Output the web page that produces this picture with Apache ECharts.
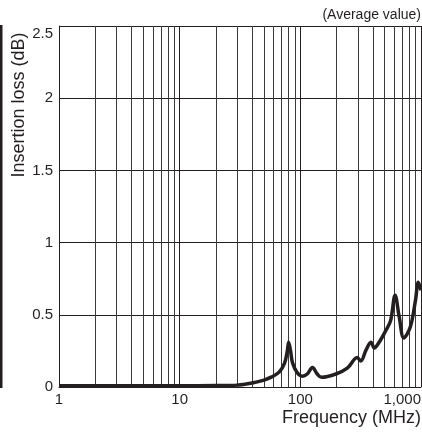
<!DOCTYPE html>
<html>
<head>
<meta charset="utf-8">
<script src="https://cdn.jsdelivr.net/npm/echarts@6/dist/echarts.min.js"></script>
<style>
  html, body { margin: 0; padding: 0; background: #fff; }
  #chart { width: 422px; height: 433px; }
</style>
</head>
<body>
<div id="chart"></div>
<script>
  // 频率 (MHz) 与插入损耗 (dB)
  var freq = [1, 2, 5, 10, 20, 30, 40, 50, 58, 67, 74, 78, 80, 83, 86, 94, 104, 114, 126, 138, 150,
              197, 245, 296, 317, 350, 385, 410, 450, 510, 560, 610, 660, 720, 815, 900, 950, 1000];
  var loss = [0.008, 0.008, 0.008, 0.008, 0.01, 0.013, 0.028, 0.048, 0.07, 0.105, 0.165, 0.25, 0.31, 0.25, 0.17, 0.1, 0.075, 0.09, 0.135, 0.09, 0.067,
              0.09, 0.13, 0.205, 0.18, 0.255, 0.31, 0.27, 0.31, 0.39, 0.46, 0.635, 0.485, 0.34, 0.415, 0.6, 0.725, 0.67];
  // 竖向网格线（对数轴每个十倍程内的 2~9）
  var minorGrid = [2, 3, 4, 5, 6, 7, 8, 9, 20, 30, 40, 50, 60, 70, 80, 90, 200, 300, 400, 500, 600, 700, 800, 900];
  var yTicks = { min: 0, max: 2.5, interval: 0.5 };

  var ink = '#231f20';
  var font = '"Liberation Sans", Arial, sans-serif';

  var lineData = freq.map(function (f, i) { return [f, loss[i]]; });

  var chart = echarts.init(document.getElementById('chart'));
  chart.setOption({
    animation: false,
    textStyle: { fontFamily: font },
    grid: { left: 59, top: 26, right: 1, bottom: 46, outerBoundsMode: 'none' },
    xAxis: [{
      type: 'log',
      logBase: 10,
      min: 1,
      max: 1000,
      axisLine: { show: true, lineStyle: { color: ink, width: 1 } },
      axisTick: { show: false },
      axisLabel: {
        color: ink, fontSize: 15, margin: 5, fontFamily: font,
        alignMaxLabel: 'right',
        formatter: function (v) { return v >= 1000 ? '1,000' : String(v); }
      },
      splitLine: { show: true, lineStyle: { color: ink, width: 1 } }
    }, {
      // 只用来画 2~9 倍处的竖线
      type: 'log',
      logBase: 10,
      min: 1,
      max: 1000,
      position: 'bottom',
      axisLine: { show: false },
      axisTick: { show: false, customValues: minorGrid },
      axisLabel: { show: false },
      splitLine: { show: true, lineStyle: { color: '#3a3a3a', width: 1 } }
    }],
    yAxis: {
      type: 'value',
      min: yTicks.min,
      max: yTicks.max,
      interval: yTicks.interval,
      axisLine: { show: true, lineStyle: { color: ink, width: 1 } },
      axisTick: { show: false },
      axisLabel: { color: ink, fontSize: 15, margin: 6, fontFamily: font, verticalAlignMaxLabel: 'top' },
      splitLine: { show: true, lineStyle: { color: ink, width: 1 } }
    },
    series: [{
      type: 'line',
      data: lineData,
      smooth: 0.35,
      symbol: 'none',
      lineStyle: { color: ink, width: 3.5 },
      z: 5
    }],
    graphic: [
      {
        type: 'text',
        x: 19, y: 105,
        rotation: Math.PI / 2,
        style: { text: 'Insertion loss (dB)', fill: ink, font: '18px ' + font, align: 'center', verticalAlign: 'middle' }
      },
      {
        type: 'text',
        right: 1, top: 409,
        style: { text: 'Frequency (MHz)', fill: ink, font: '18px ' + font }
      },
      {
        type: 'text',
        right: 1, top: 8,
        style: { text: '(Average value)', fill: ink, font: '14px ' + font }
      },
      {
        type: 'rect',
        shape: { x: 0, y: 25, width: 2.5, height: 363 },
        style: { fill: ink }
      }
    ]
  });
</script>
</body>
</html>
